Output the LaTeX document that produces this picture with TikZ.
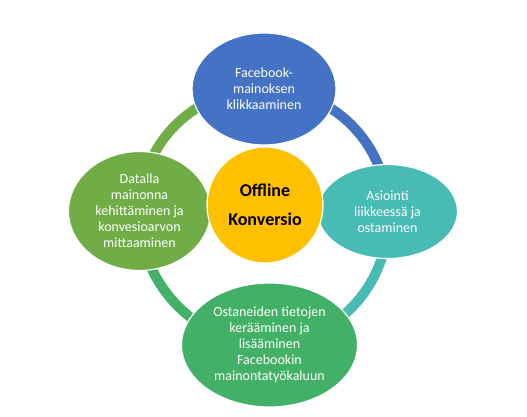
\documentclass[tikz,border=0pt]{standalone}
\usepackage{fontspec}
\setmainfont{Carlito}
\usetikzlibrary{shapes.geometric, backgrounds}
\definecolor{cyblue}{RGB}{68,114,196}
\definecolor{cyteal}{RGB}{72,187,181}
\definecolor{cygreen}{RGB}{66,177,103}
\definecolor{cylime}{RGB}{112,173,71}
\definecolor{cyyellow}{RGB}{255,192,0}

\begin{document}
\begin{tikzpicture}[x=1pt, y=1pt,
  cbox/.style={ellipse, draw=white, line width=1.2pt, inner sep=0pt,
               align=center, text=white, font=\fontsize{14}{16}\selectfont},
  ring/.style={line width=10pt}]
  \useasboundingbox (0,0) rectangle (527,-417);

  % cycle steps
  \node[cbox, fill=cyblue, minimum width=144pt, minimum height=112pt] (click) at (264,-89)
    {Facebook-\\mainoksen\\klikkaaminen};
  \node[cbox, fill=cyteal, minimum width=140pt, minimum height=94pt] (shop) at (387.5,-211.5)
    {Asiointi\\liikkeessä ja\\ostaminen};
  \node[cbox, fill=cygreen, minimum width=176pt, minimum height=124pt] (collect) at (269.5,-345)
    {Ostaneiden tietojen\\kerääminen ja\\lisääminen\\Facebookin\\mainontatyökaluun};
  \node[cbox, fill=cylime, minimum width=142pt, minimum height=119pt] (data) at (139.5,-211)
    {Datalla\\mainonna\\kehittäminen ja\\konvesioarvon\\mittaaminen};

  % center
  \node[circle, fill=cyyellow, draw=white, line width=1.2pt, minimum size=116pt, inner sep=0pt,
        align=center, font=\bfseries\fontsize{18}{29}\selectfont] (hub) at (265,-205)
    {Offline\\Konversio};

  % ring behind the steps
  \begin{scope}[on background layer]
    \draw[ring, cyblue] (click.center) to[bend left=45] (shop.center);
    \draw[ring, cyteal] (shop.center) to[bend left=45] (collect.center);
    \draw[ring, cygreen] (collect.center) to[bend left=45] (data.center);
    \draw[ring, cylime] (data.center) to[bend left=45] (click.center);
  \end{scope}
\end{tikzpicture}
\end{document}
